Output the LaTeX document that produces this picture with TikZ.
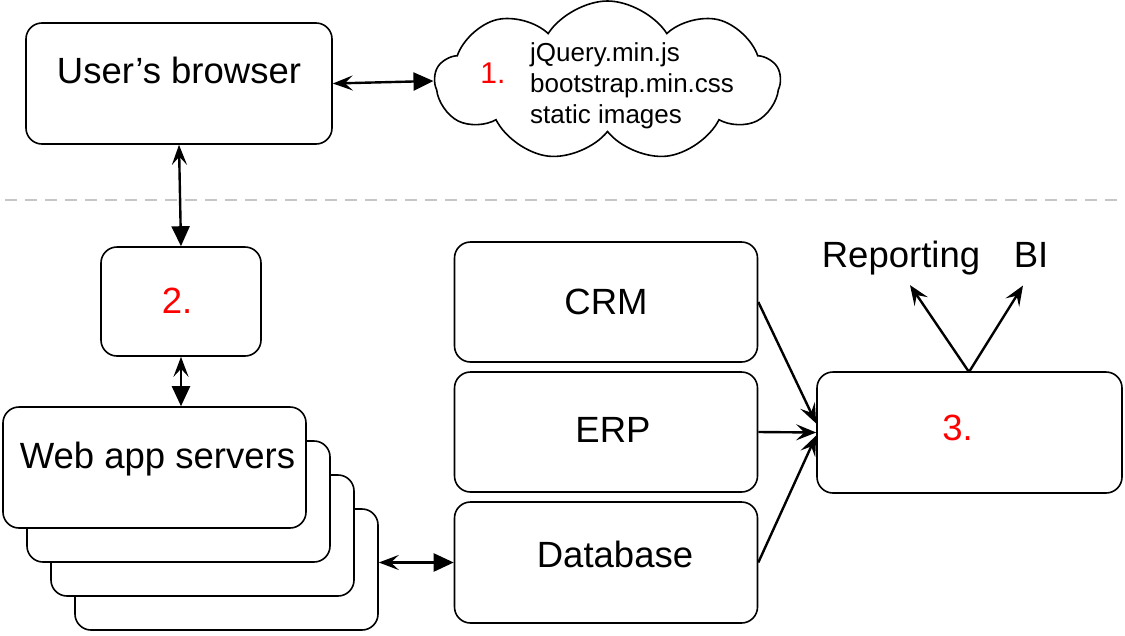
\documentclass[tikz,border=0pt]{standalone}
\usepackage{fontspec}
\setmainfont{Liberation Sans}
\usetikzlibrary{arrows.meta,shapes.symbols}

\begin{document}
\begin{tikzpicture}[x=1pt,y=-1pt,font=\fontsize{36.5}{43}\selectfont,
	box/.style={draw,rounded corners=16pt,line width=1.6pt,fill=white,minimum width=303pt,minimum height=121pt},
	lnk/.style={line width=2.4pt,{Stealth[length=20pt,width=15pt,inset=8pt]}-{Triangle[length=20pt,width=18pt]}},
	one/.style={line width=2.4pt,-{Stealth[length=20pt,width=16pt,inset=8pt]}},
	num/.style={text=red}]
	\useasboundingbox (0,0) rectangle (1125,635);
	\node[box,minimum width=306pt,label={[yshift=13.5pt]center:User’s browser}] (brw) at (179,83.5) {};
	\node[cloud,draw,line width=1.6pt,cloud puffs=9,cloud puff arc=115,cloud ignores aspect,minimum width=345pt,minimum height=160pt] (cdn) at (607.5,81) {};
	\node[num,font=\fontsize{30}{36}\selectfont] (n1) at (493,73) {1.};
	\node[anchor=west,align=left,inner sep=0pt,font=\fontsize{26}{31}\selectfont] (files) at (530,86) {jQuery.min.js\\bootstrap.min.css\\static images};
	\draw[gray!45,line width=1.5pt,dash pattern=on 12pt off 8pt] (5,200) -- (1125,200);
	\node[box,minimum width=160pt,minimum height=109pt,label={[num,xshift=-4pt,yshift=1pt]center:2.}] (p2) at (181,301.5) {};
	\node[box] (srv4) at (226.5,569.5) {};
	\node[box] (srv3) at (202.5,535.5) {};
	\node[box] (srv2) at (178.5,501.5) {};
	\node[box,label={[xshift=3pt,yshift=8.5pt]center:Web app servers}] (srv1) at (154.5,467.5) {};
	\node[box,minimum height=120pt] (crm) at (606,302) {CRM};
	\node[box,minimum height=120pt,label={[xshift=7pt,yshift=2.5pt]center:ERP}] (erp) at (606,432) {};
	\node[box,label={[xshift=9pt,yshift=8.5pt]center:Database}] (db) at (606,562.5) {};
	\node[box,minimum width=305pt,label={[num,xshift=-12pt,yshift=5pt]center:3.}] (p3) at (969.5,432.5) {};
	\node[anchor=base] (rep) at (901,267) {Reporting};
	\node[anchor=base] (bi) at (1031,267) {BI};
	\coordinate (fork) at (969,372);
	\draw[lnk] (brw.east) -- (cdn.west);
	\draw[lnk] (brw.south) -- (p2.north);
	\draw[lnk] (p2.south) -- (p2.south |- srv1.north);
	\draw[lnk] (srv4.east |- db.west) -- (db.west);
	\draw[one] (crm.east) -- ([yshift=9pt]p3.west);
	\draw[one] (erp.east) -- (p3.west);
	\draw[one] (db.east) -- ([yshift=-3pt]p3.west);
	\draw[one] (fork) -- ([xshift=9pt,yshift=-7pt]rep.south);
	\draw[one] (fork) -- ([xshift=-8pt,yshift=-15pt]bi.south);
\end{tikzpicture}
\end{document}
